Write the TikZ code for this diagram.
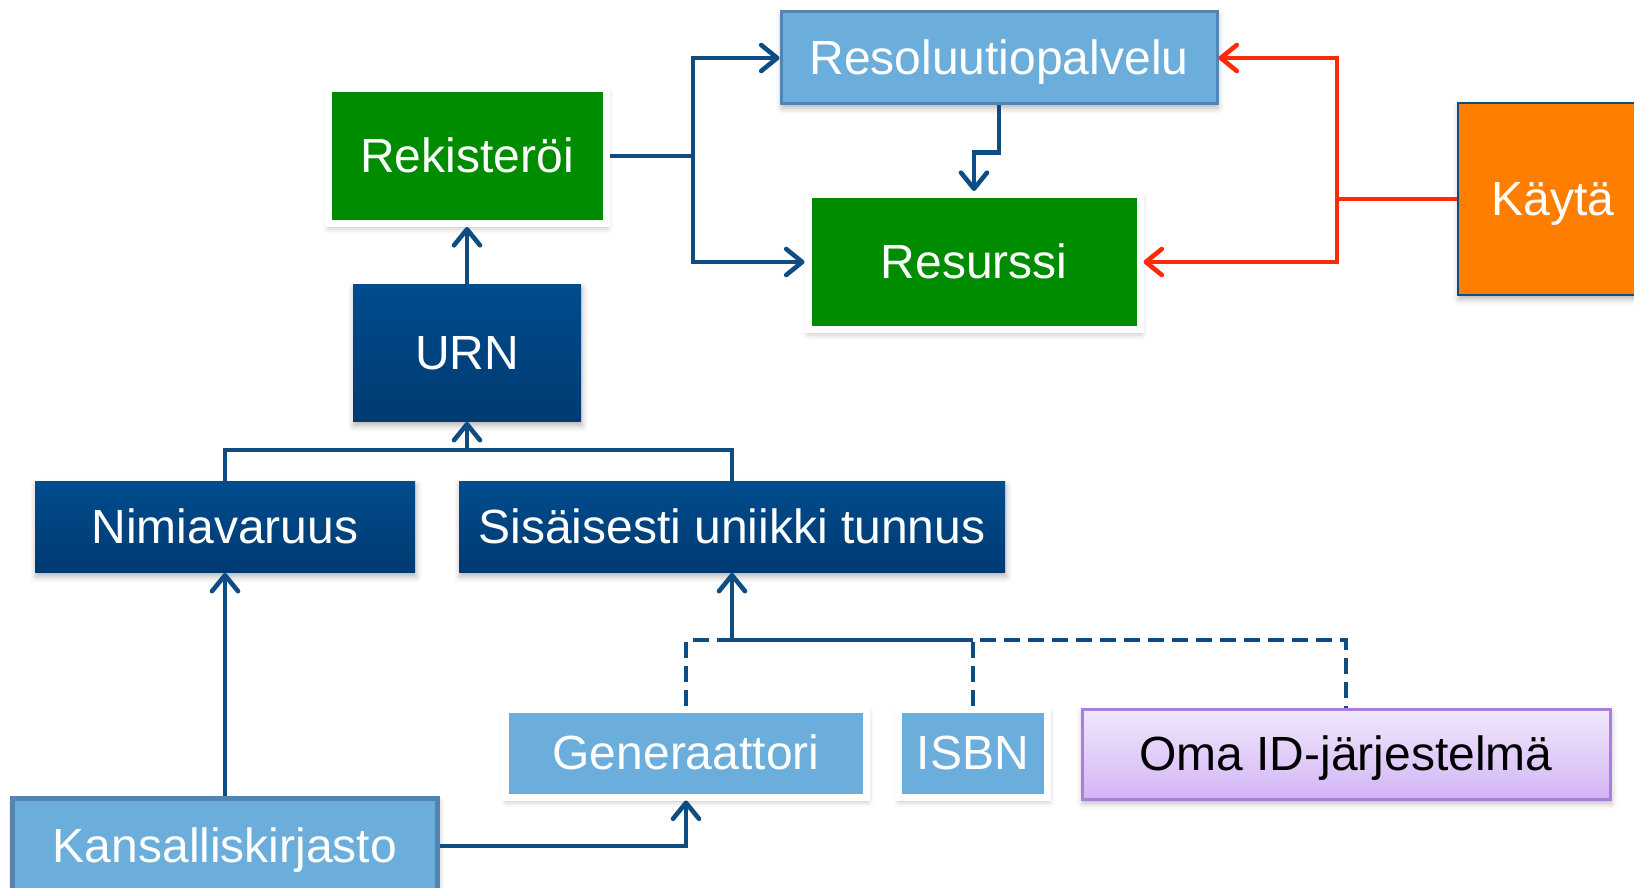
\documentclass[tikz,border=0pt]{standalone}
\usepackage{fontspec}
\setmainfont{Liberation Sans}
\usetikzlibrary{arrows.meta,shadows.blur}
\definecolor{navy}{HTML}{0E4C82}
\definecolor{boxtop}{HTML}{004C8D}
\definecolor{boxbot}{HTML}{003A72}
\definecolor{lblue}{HTML}{6CAEDB}
\definecolor{lbluedge}{HTML}{5385B0}
\definecolor{grn}{HTML}{008C00}
\definecolor{orng}{HTML}{FF7E00}
\definecolor{rd}{HTML}{FF2A0A}
\definecolor{lilatop}{HTML}{F0E8FC}
\definecolor{lilabot}{HTML}{D3B5F5}
\definecolor{liladge}{HTML}{A97EE0}

\begin{document}
\begin{tikzpicture}[x=0.5pt,y=-0.5pt,
		box/.style={rectangle,inner sep=0pt,font=\fontsize{24}{28}\selectfont,text=white,
			text height=21.7pt,text depth=5.1pt,
			blur shadow={shadow xshift=0.5pt,shadow yshift=-2pt,shadow blur radius=3pt,shadow opacity=30}},
		darkbox/.style={box,top color=boxtop,bottom color=boxbot},
		lightbox/.style={box,fill=lblue,draw=lbluedge,line width=1.5pt},
		framed/.style={box,draw=white,line width=3.5pt},
		line/.style={draw=navy,line width=2.3pt},
		arr/.style={line,-{Straight Barb[length=8pt,width=13pt,round]}},
		dline/.style={draw=navy,line width=2.1pt,dash pattern=on 8pt off 4pt},
		redline/.style={draw=rd,line width=2.3pt},
		redarr/.style={redline,-{Straight Barb[length=8pt,width=13pt,round]}}]
	\useasboundingbox (0,0) rectangle (1634,888);
	\clip (0,0) rectangle (1634,888);

	\node[lightbox,minimum width=436pt/2,minimum height=92pt/2] (reso) at (999,58) {Resoluutiopalvelu};
	\node[framed,fill=grn,minimum width=278pt/2,minimum height=135pt/2] (rek) at (467,156) {Rekisteröi};
	\node[framed,fill=grn,minimum width=332pt/2,minimum height=135pt/2] (res) at (974,262) {Resurssi};
	\node[box,fill=orng,draw=navy,line width=0.75pt,minimum width=190pt/2,minimum height=192pt/2] (kayta) at (1553,199) {Käytä};
	\node[darkbox,minimum width=228pt/2,minimum height=137pt/2] (urn) at (467,353) {URN};
	\node[darkbox,minimum width=380pt/2,minimum height=91pt/2] (nimi) at (225,527) {Nimiavaruus};
	\node[darkbox,minimum width=546pt/2,minimum height=91pt/2] (sis) at (732,527) {Sisäisesti uniikki tunnus};
	\node[framed,fill=lblue,minimum width=361pt/2,minimum height=88pt/2] (gen) at (686,753) {Generaattori};
	\node[framed,fill=lblue,minimum width=149pt/2,minimum height=88pt/2] (isbn) at (973,753) {ISBN};
	\node[box,top color=lilatop,bottom color=lilabot,draw=liladge,line width=1.5pt,text=black,
		minimum width=528pt/2,minimum height=90pt/2] (oma) at (1346,754) {Oma ID-järjestelmä};
	\node[lightbox,line width=2.5pt,minimum width=425pt/2,minimum height=96pt/2] (kans) at (225,846) {Kansalliskirjasto};

	\coordinate (jr) at (693,156);
	\coordinate (jk) at (1337,199);
	\coordinate (ju) at (467,450);
	\coordinate (jd) at (732,640);

	\draw[line] (rek.east) -- (jr);
	\draw[arr] (jr) |- (reso.west);
	\draw[arr] (jr) |- (res.west);
	\draw[arr] (reso.south) -- ++(0,47) -| (res.north);
	\draw[redline] (kayta.west) -- (jk);
	\draw[redarr] (jk) |- (reso.east);
	\draw[redarr] (jk) |- (res.east);
	\draw[arr] (urn.north) -- (rek.south);
	\draw[line] (nimi.north) |- (ju) -| (sis.north);
	\draw[arr] (ju) -- (urn.south);
	\draw[arr] (kans.north) -- (nimi.south);
	\draw[arr] (kans.east) -| (gen.south);
	\draw[dline] (gen.north) |- (jd);
	\draw[dline] (isbn.north) |- (oma.north |- jd) -- (oma.north);
	\draw[line] (jd) -- (isbn.north |- jd);
	\draw[arr] (jd) -- (sis.south);
\end{tikzpicture}
\end{document}
